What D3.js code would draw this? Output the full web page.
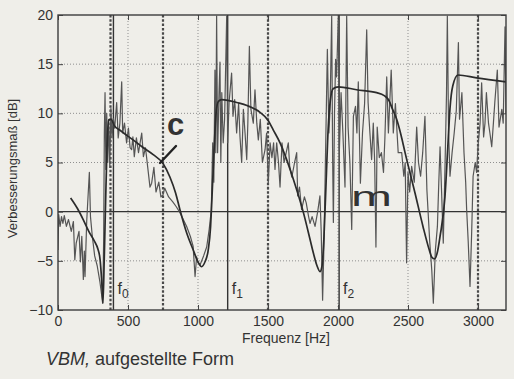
<!DOCTYPE html>
<html>
<head>
<meta charset="utf-8">
<script src="https://cdn.jsdelivr.net/npm/d3@7"></script>
<style>
  html, body { margin: 0; padding: 0; background: #efeee9; }
  svg { display: block; }
  text { font-family: "Liberation Sans", Arial, Helvetica, sans-serif; fill: #333; }
</style>
</head>
<body>
<svg id="chart" width="514" height="379"></svg>
<script>
// Axis ticks
const xTicks = [0, 500, 1000, 1500, 2000, 2500, 3000];
const yTicks = [-10, -5, 0, 5, 10, 15, 20];

// Octave marks (dashed) and resonance frequencies f0, f1, f2 (solid)
const octaveFreqs = [375, 750, 1500, 3000];
const resonanceFreqs = [396, 1212, 2008];
const resonanceNames = ["0", "1", "2"];

// Calculated improvement [Hz, dB]
const theory = [
  [90, 1.4], [140, 0.3], [180, -0.8], [220, -2.0], [260, -3.0], [285, -3.8],
  [300, -4.8], [312, -7.0], [321, -9.3], [330, -5.0], [340, 1.0], [350, 6.5],
  [362, 9.3], [380, 9.4], [400, 8.8], [450, 8.2], [536, 7.3], [600, 6.6],
  [680, 5.8], [750, 4.9], [800, 3.5], [840, 1.9], [871, 0.2], [920, -2.2],
  [966, -3.9], [1000, -5.1], [1026, -5.6], [1050, -5.1], [1073, -3.9],
  [1090, -1.5], [1100, 1.5], [1114, 6.0], [1129, 10.0], [1145, 11.2],
  [1169, 11.4], [1220, 11.3], [1276, 11.1], [1350, 10.8], [1443, 10.1],
  [1500, 9.3], [1538, 8.3], [1586, 7.0], [1620, 5.8], [1681, 3.3],
  [1753, -0.1], [1800, -2.8], [1824, -4.2], [1850, -5.5], [1871, -6.1],
  [1885, -5.6], [1900, -2.5], [1915, 3.0], [1930, 8.5], [1945, 11.3],
  [1965, 12.5], [2002, 12.7], [2133, 12.4], [2276, 12.1], [2330, 11.8],
  [2360, 11.4], [2390, 10.4], [2419, 9.4], [2450, 7.8], [2479, 6.0],
  [2550, 1.9], [2607, -1.5], [2650, -3.8], [2669, -4.6], [2690, -4.8],
  [2710, -4.1], [2729, -2.5], [2764, 1.5], [2786, 7.0], [2800, 10.5],
  [2820, 12.8], [2857, 13.9], [2990, 13.6], [3200, 13.2]
];

// Measured improvement [Hz, dB]
const measured = [
  [0, -3.9], [5, -0.3], [15, -1.5], [25, -0.5], [35, -1.2], [45, -0.4],
  [60, -1.5], [75, -0.8], [95, -2.0], [110, -1.0], [120, -4.9], [130, -3.2],
  [150, -2.0], [160, -5.1], [170, -2.5], [181, -6.9], [188, -4.0], [193, -6.6],
  [205, -1.0], [224, 4.0], [232, -0.5], [245, -2.5], [262, -4.5], [280, -5.5],
  [300, -7.2], [312, -8.5], [319, -9.3], [326, -3.0], [331, 8.0], [336, 12.1],
  [342, 4.3], [348, 10.0], [355, 5.0], [362, 9.4], [370, 4.5], [378, 10.5],
  [386, 7.5], [395, 9.5], [405, 8.5], [419, 11.1], [430, 7.5], [442, 9.0],
  [455, 13.2], [462, 8.0], [475, 9.0], [490, 7.0], [503, 8.5], [515, 6.5],
  [526, 6.3], [535, 7.6], [545, 5.6], [560, 7.5], [575, 6.0], [598, 8.0],
  [610, 5.6], [625, 6.5], [645, 4.0], [657, 2.5], [669, 2.9], [685, 4.5],
  [700, 2.0], [720, 3.0], [735, 1.5], [750, 1.7], [762, 2.4], [790, 1.5],
  [820, 1.0], [845, 0.5], [871, -0.1], [895, -0.8], [919, -1.5], [945, -2.5],
  [965, -3.5], [979, -6.6], [990, -4.6], [1000, -5.2], [1015, -5.4],
  [1040, -4.5], [1062, -3.6], [1080, -1.8], [1095, 0.2], [1105, 7.0],
  [1113, 3.0], [1121, 14.4], [1127, 6.0], [1133, 19.9], [1140, 6.0],
  [1150, 12.0], [1157, 15.2], [1163, 5.0], [1170, 12.1], [1180, 7.0],
  [1190, 9.4], [1205, 19.9], [1212, 7.0], [1222, 11.1], [1240, 14.1],
  [1250, 9.7], [1262, 11.4], [1276, 8.0], [1290, 11.0], [1300, 7.6],
  [1312, 5.0], [1324, 10.4], [1336, 8.0], [1348, 5.3], [1356, 9.0],
  [1367, 16.8], [1378, 10.4], [1395, 9.0], [1407, 12.4], [1420, 9.0],
  [1431, 7.3], [1445, 9.4], [1460, 5.0], [1479, 6.3], [1490, 8.0],
  [1502, 2.9], [1515, 7.0], [1528, 5.5], [1540, 7.0], [1550, 4.3],
  [1562, 7.0], [1575, 5.0], [1586, 2.5], [1600, 7.0], [1615, 5.0],
  [1630, 6.0], [1645, 7.0], [1655, 4.6], [1670, 3.5], [1690, 5.0],
  [1705, 6.0], [1712, 1.6], [1725, 2.5], [1740, 0.2], [1760, 1.5],
  [1773, 0.9], [1790, -0.5], [1800, -1.2], [1815, -0.5], [1836, -1.5],
  [1855, 0.0], [1871, 1.6], [1880, -2.0], [1890, -9.0], [1900, -3.2],
  [1910, 5.0], [1924, 16.5], [1935, 8.0], [1943, 10.4], [1955, 19.9],
  [1962, 5.0], [1967, -1.1], [1975, 10.0], [1983, 15.5], [1990, 13.7],
  [2002, 19.9], [2010, 6.3], [2022, 12.1], [2035, 8.0], [2050, 2.5],
  [2062, 19.9], [2072, 8.6], [2085, 5.0], [2098, -1.8], [2110, 9.7],
  [2125, 10.7], [2135, 8.0], [2145, 13.2], [2160, 2.9], [2175, 8.0],
  [2190, 11.0], [2205, 18.5], [2215, 11.1], [2228, 8.0], [2240, 5.3],
  [2252, 9.0], [2262, 5.0], [2271, -3.6], [2280, 8.6], [2295, 5.5],
  [2310, 6.0], [2325, 4.0], [2335, 7.5], [2348, 13.7], [2360, 8.0],
  [2380, 14.4], [2395, 8.0], [2410, 11.0], [2430, 6.0], [2455, 6.0],
  [2470, 3.6], [2480, 5.0], [2490, -5.2], [2500, 4.0], [2512, 2.0],
  [2526, 4.6], [2545, 3.0], [2562, 8.6], [2575, 5.0], [2590, 3.6],
  [2605, 6.0], [2621, 9.7], [2635, 2.2], [2655, -3.0], [2670, -6.0],
  [2681, -9.3], [2695, -4.0], [2710, -1.5], [2720, 3.0], [2729, 6.6],
  [2740, 2.0], [2752, -3.2], [2765, 5.0], [2775, 12.0], [2781, 19.9],
  [2790, 8.0], [2800, 3.6], [2815, 6.0], [2830, 8.0], [2845, 10.3],
  [2860, 17.2], [2868, 9.4], [2885, 12.1], [2900, 6.0], [2912, 3.0],
  [2919, 0.2], [2930, -3.0], [2943, -7.6], [2955, -2.0], [2965, 3.6],
  [2980, 5.0], [2990, 4.0], [3002, 7.0], [3015, 9.0], [3026, 13.1],
  [3040, 7.6], [3050, 9.0], [3060, 12.1], [3075, 9.0], [3085, 8.0],
  [3098, 6.6], [3110, 9.0], [3120, 11.1], [3138, 14.4], [3150, 8.6],
  [3160, 9.5], [3170, 10.4], [3180, 9.0], [3193, 18.8], [3200, 10.0]
];

const plot = { left: 58, right: 506, top: 15, bottom: 310 };

const svg = d3.select("#chart");

const x = d3.scaleLinear().domain([0, 3200]).range([plot.left, plot.right]);
const y = d3.scaleLinear().domain([-10, 20]).range([plot.bottom, plot.top]);

svg.append("defs").append("clipPath").attr("id", "plotClip")
  .append("rect")
  .attr("x", plot.left).attr("y", plot.top)
  .attr("width", plot.right - plot.left).attr("height", plot.bottom - plot.top);

// Dotted grid
const grid = svg.append("g").attr("class", "grid");
grid.selectAll("line.gx").data(xTicks.filter(d => d > 0)).join("line")
  .attr("x1", d => x(d)).attr("x2", d => x(d))
  .attr("y1", plot.top).attr("y2", plot.bottom)
  .attr("stroke", "#8f8f8f").attr("stroke-width", 1)
  .attr("stroke-dasharray", "1,2");
grid.selectAll("line.gy").data(yTicks.filter(d => d !== 0 && d > -10 && d < 20)).join("line")
  .attr("x1", plot.left).attr("x2", plot.right)
  .attr("y1", d => y(d)).attr("y2", d => y(d))
  .attr("stroke", "#8f8f8f").attr("stroke-width", 1)
  .attr("stroke-dasharray", "1,2");

// Zero line
svg.append("line")
  .attr("x1", plot.left).attr("x2", plot.right)
  .attr("y1", y(0)).attr("y2", y(0))
  .attr("stroke", "#333").attr("stroke-width", 1.3);

// Octave marks
svg.append("g").selectAll("line").data(octaveFreqs).join("line")
  .attr("x1", d => x(d)).attr("x2", d => x(d))
  .attr("y1", plot.top).attr("y2", plot.bottom)
  .attr("stroke", "#4a4a4a").attr("stroke-width", 2.2)
  .attr("stroke-dasharray", "2.5,1.8");

// Resonance lines
svg.append("g").selectAll("line").data(resonanceFreqs).join("line")
  .attr("x1", d => x(d)).attr("x2", d => x(d))
  .attr("y1", plot.top).attr("y2", plot.bottom)
  .attr("stroke", "#333").attr("stroke-width", 1.4);

// Curves
const measLine = d3.line().x(d => x(d[0])).y(d => y(d[1]));
const theoryLine = d3.line().x(d => x(d[0])).y(d => y(d[1])).curve(d3.curveMonotoneX);
const curves = svg.append("g").attr("clip-path", "url(#plotClip)");
curves.append("path").datum(measured)
  .attr("d", measLine).attr("fill", "none")
  .attr("stroke", "#555").attr("stroke-width", 1.2)
  .attr("stroke-linejoin", "round");
curves.append("path").datum(theory)
  .attr("d", theoryLine).attr("fill", "none")
  .attr("stroke", "#2b2b2b").attr("stroke-width", 1.7)
  .attr("stroke-linejoin", "round");

// Resonance labels
const fl = svg.append("g").selectAll("text").data(resonanceFreqs).join("text")
  .attr("x", d => x(d) + 4).attr("y", 294)
  .attr("font-size", 16);
fl.append("tspan").text("f");
fl.append("tspan").attr("dy", 4).attr("font-size", 12).text((d, i) => resonanceNames[i]);

// Axes with inward ticks on all four sides
const fmt = d3.format("d");
const axB = svg.append("g").attr("transform", `translate(0,${plot.bottom})`)
  .call(d3.axisBottom(x).tickValues(xTicks).tickFormat(fmt).tickSizeInner(-5).tickSizeOuter(0).tickPadding(6));
const axL = svg.append("g").attr("transform", `translate(${plot.left},0)`)
  .call(d3.axisLeft(y).tickValues(yTicks).tickFormat(fmt).tickSizeInner(-5).tickSizeOuter(0).tickPadding(5));
const axT = svg.append("g").attr("transform", `translate(0,${plot.top})`)
  .call(d3.axisTop(x).tickValues(xTicks).tickFormat("").tickSizeInner(-5).tickSizeOuter(0));
const axR = svg.append("g").attr("transform", `translate(${plot.right},0)`)
  .call(d3.axisRight(y).tickValues(yTicks).tickFormat("").tickSizeInner(-5).tickSizeOuter(0));
[axB, axL, axT, axR].forEach(g => {
  g.select(".domain").remove();
  g.selectAll(".tick line").attr("stroke", "#444").attr("stroke-width", 1);
  g.selectAll(".tick text").attr("font-size", 14).attr("fill", "#333")
    .attr("font-family", "'Liberation Sans', Arial, sans-serif");
});

// Frame
svg.append("rect")
  .attr("x", plot.left).attr("y", plot.top)
  .attr("width", plot.right - plot.left).attr("height", plot.bottom - plot.top)
  .attr("fill", "none").attr("stroke", "#3d3d3d").attr("stroke-width", 1.4);

// Axis titles
svg.append("text")
  .attr("transform", `translate(17,${(plot.top + plot.bottom) / 2 + 6}) rotate(-90)`)
  .attr("text-anchor", "middle").attr("font-size", 13)
  .text("Verbesserungsmaß [dB]");
svg.append("text")
  .attr("x", 286).attr("y", 343)
  .attr("text-anchor", "middle").attr("font-size", 14)
  .text("Frequenz [Hz]");

// Handwritten notes on the curves
svg.append("text")
  .attr("x", 167).attr("y", 135)
  .attr("font-family", "'DejaVu Sans', sans-serif").attr("font-weight", "bold")
  .attr("font-size", 31).attr("fill", "#222")
  .text("c");
svg.append("line")
  .attr("x1", 160).attr("y1", 163).attr("x2", 176).attr("y2", 146)
  .attr("stroke", "#222").attr("stroke-width", 2.4).attr("stroke-linecap", "round");
svg.append("text")
  .attr("x", 351).attr("y", 206)
  .attr("font-family", "'DejaVu Sans', sans-serif")
  .attr("font-size", 28).attr("fill", "#222")
  .attr("textLength", 41).attr("lengthAdjust", "spacingAndGlyphs")
  .text("m");

// Caption
const cap = svg.append("text").attr("x", 46).attr("y", 365).attr("font-size", 18).attr("fill", "#333");
cap.append("tspan").attr("font-style", "italic").text("VBM,");
cap.append("tspan").text(" aufgestellte Form");
</script>
</body>
</html>
